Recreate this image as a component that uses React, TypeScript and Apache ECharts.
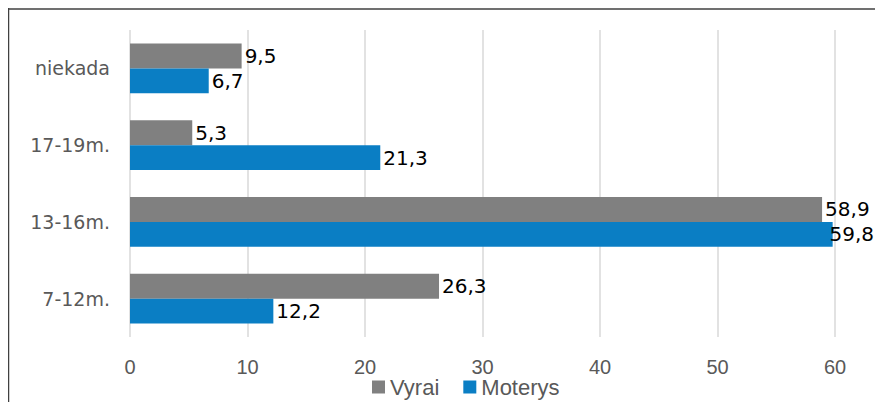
import React, { useEffect, useRef } from "react";
import * as echarts from "echarts";

const categories = ["7-12m.", "13-16m.", "17-19m.", "niekada"];
const vyrai = [26.3, 58.9, 5.3, 9.5];
const moterys = [12.2, 59.8, 21.3, 6.7];
const seriesNames = ["Vyrai", "Moterys"];

const WIDE = "'DejaVu Sans', 'Open Sans', sans-serif";
const NARROW = "'Liberation Sans', Arial, sans-serif";
const CHART_W = 867;

export default function App() {
  const ref = useRef<HTMLDivElement>(null);
  useEffect(() => {
    if (!ref.current) return;
    const chart = echarts.init(ref.current, null, { renderer: "svg" });
    const fmt = (p: any) => String(p.value).replace(".", ",");
    const label = {
      show: true,
      position: "right",
      distance: 3,
      color: "#000",
      fontSize: 20,
      fontFamily: WIDE,
      formatter: fmt,
    };
    const keepInside = (params: any) => {
      const r = params.labelRect;
      const limit = CHART_W - 1;
      if (r && r.x + r.width > limit) return { dx: limit - (r.x + r.width) };
      return {};
    };
    chart.setOption({
      animation: false,
      backgroundColor: "#fff",
      textStyle: { fontFamily: WIDE },
      grid: { left: 122, top: 22, width: 705, bottom: 65, containLabel: false },
      legend: {
        data: seriesNames,
        left: 364,
        top: 368,
        padding: 0,
        itemWidth: 13,
        itemHeight: 13,
        itemGap: 24,
        icon: "rect",
        textStyle: { color: "#595959", fontSize: 22, fontFamily: NARROW },
      },
      xAxis: {
        type: "value",
        min: 0,
        max: 60,
        interval: 10,
        axisLine: { show: false },
        axisTick: { show: false },
        splitLine: { show: true, lineStyle: { color: "#d9d9d9", width: 1.5 } },
        axisLabel: { color: "#595959", fontSize: 20, margin: 20, fontFamily: NARROW },
      },
      yAxis: {
        type: "category",
        data: categories,
        axisLine: { show: false },
        axisTick: { show: false },
        axisLabel: { color: "#595959", fontSize: 19, margin: 20, fontFamily: WIDE },
      },
      series: [
        {
          name: seriesNames[0],
          type: "bar",
          data: vyrai,
          itemStyle: { color: "#808080" },
          barGap: "0%",
          barCategoryGap: "35%",
          label,
          labelLayout: keepInside,
        },
        {
          name: seriesNames[1],
          type: "bar",
          data: moterys,
          itemStyle: { color: "#0a7ec4" },
          barGap: "0%",
          barCategoryGap: "35%",
          label,
          labelLayout: keepInside,
        },
      ],
      graphic: [
        { type: "line", shape: { x1: 0.5, y1: 0, x2: 0.5, y2: 394 }, style: { stroke: "#404040", lineWidth: 1.5 } },
        { type: "line", shape: { x1: 0, y1: 1, x2: CHART_W, y2: 1 }, style: { stroke: "#404040", lineWidth: 1.5 } },
      ],
    });
    return () => chart.dispose();
  }, []);
  return (
    <div
      ref={ref}
      style={{ position: "fixed", left: 8, top: 8, width: CHART_W, height: 394 }}
    />
  );
}
